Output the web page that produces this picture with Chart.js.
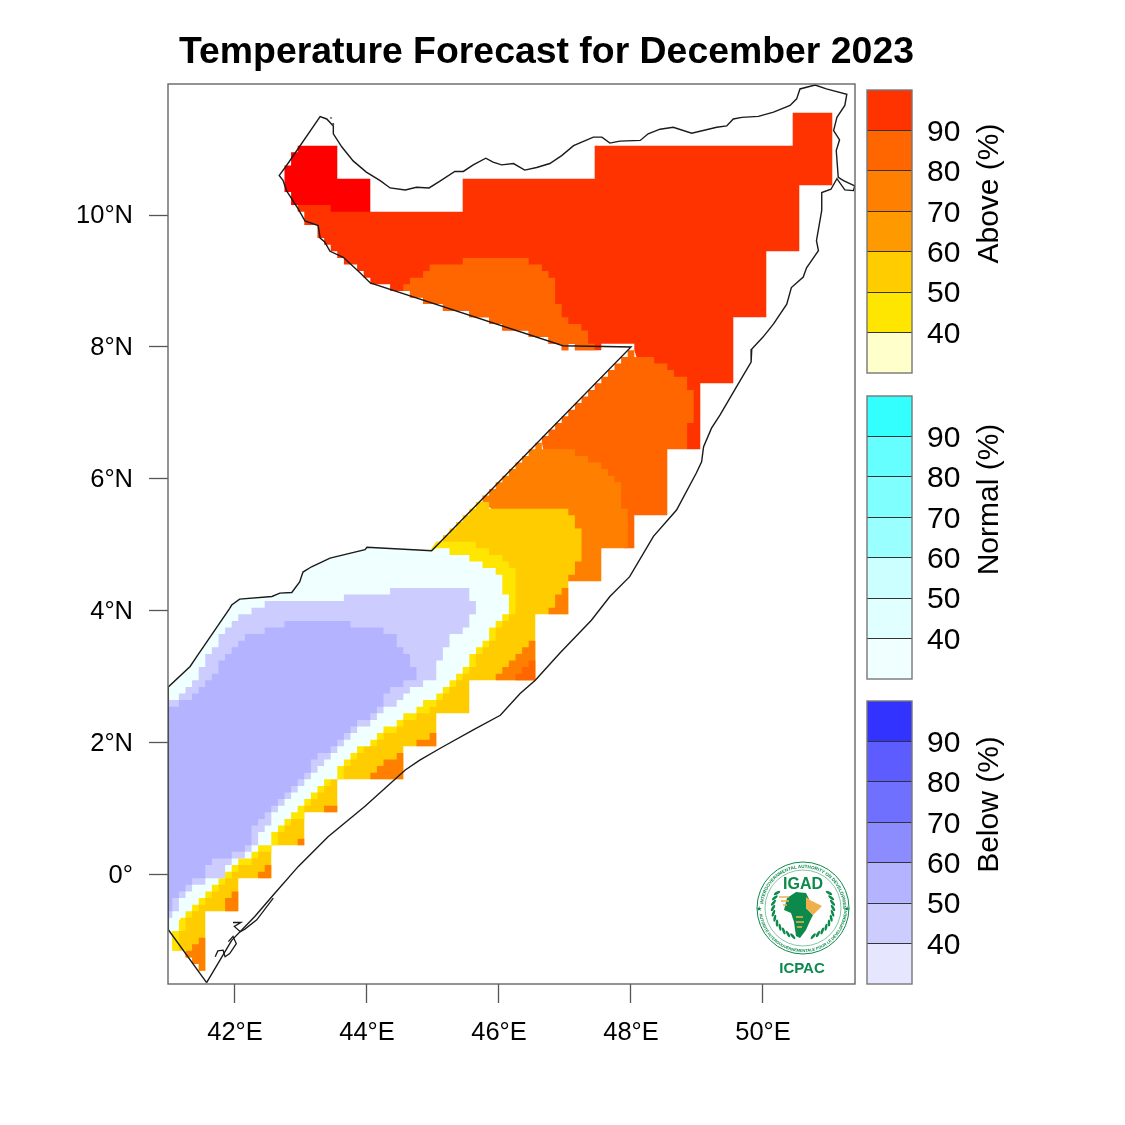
<!DOCTYPE html>
<html>
<head>
<meta charset="utf-8">
<title>Temperature Forecast for December 2023</title>
<script src="https://cdn.jsdelivr.net/npm/chart.js@4"></script>
<style>
  html, body { margin: 0; padding: 0; background: #fff; }
  #page { position: relative; width: 1125px; height: 1125px; overflow: hidden; }
  canvas { position: absolute; }
  #mapChart { left: 0; top: 0; }
  #aboveBar { left: 860px; top: 80px; }
  #normalBar { left: 860px; top: 386px; }
  #belowBar { left: 860px; top: 691px; }
  #title {
    position: absolute; left: 120px; width: 853px; top: 29px; text-align: center;
    font: bold 37.4px "Liberation Sans", sans-serif; color: #000; white-space: nowrap;
  }
  #logo { position: absolute; left: 750px; top: 855px; }
</style>
</head>
<body>
<div id="page">
  <canvas id="mapChart" width="1125" height="1125"></canvas>
  <canvas id="aboveBar" width="200" height="303"></canvas>
  <canvas id="normalBar" width="200" height="303"></canvas>
  <canvas id="belowBar" width="200" height="303"></canvas>
  <div id="title">Temperature Forecast for December 2023</div>
  <svg id="logo" width="105" height="125" viewBox="750 855 105 125"></svg>
</div>
<script>
const lonTicks = [42, 44, 46, 48, 50];
const lonLabels = ["42°E", "44°E", "46°E", "48°E", "50°E"];
const latTicks = [10, 8, 6, 4, 2, 0];
const latLabels = ["10°N", "8°N", "6°N", "4°N", "2°N", "0°"];

const aboveColors = ["#ffffcc", "#ffe600", "#ffcc00", "#ff9900", "#ff8000", "#ff6600", "#ff3300"];
const normalColors = ["#f0ffff", "#e0ffff", "#ccffff", "#99ffff", "#80ffff", "#66ffff", "#33ffff"];
const belowColors = ["#e6e6ff", "#ccccff", "#b3b3ff", "#8c8cff", "#7070ff", "#5c5cff", "#3333ff"];
const barLevels = [30, 40, 50, 60, 70, 80, 90, 100];

// rows are [top latitude of the row, longitude of the edge]
const ethiopiaEdge = [
  [7.95, 47.95], [7.85, 47.85], [7.75, 47.75], [7.65, 47.65], [7.55, 47.55], [7.45, 47.45],
  [7.35, 47.35], [7.25, 47.25], [7.15, 47.15], [7.05, 47.05], [6.95, 46.95], [6.85, 46.85],
  [6.75, 46.75], [6.65, 46.65], [6.55, 46.55], [6.45, 46.45], [6.35, 46.35], [6.25, 46.25],
  [6.15, 46.15], [6.05, 46.05], [5.95, 45.95], [5.85, 45.85], [5.75, 45.75], [5.65, 45.65],
  [5.55, 45.55], [5.45, 45.45], [5.35, 45.35], [5.25, 45.25], [5.15, 45.15], [5.05, 45.05]
];
const yellowOuterEdge = [
  [3.95, 46.15], [3.85, 46.05], [3.75, 45.95], [3.55, 45.85], [3.45, 45.75], [3.35, 45.65],
  [3.15, 45.55], [3.05, 45.45], [2.95, 45.35], [2.85, 45.25], [2.75, 45.15], [2.65, 45.05],
  [2.55, 44.95], [2.45, 44.75], [2.35, 44.55], [2.25, 44.45], [2.15, 44.25], [2.05, 44.15],
  [1.95, 43.95], [1.85, 43.85], [1.75, 43.75], [1.65, 43.65], [1.45, 43.45], [1.35, 43.35],
  [1.25, 43.25], [1.15, 43.15], [1.05, 43.05], [0.85, 42.85], [0.75, 42.75], [0.65, 42.65],
  [0.45, 42.55], [0.35, 42.35], [0.25, 42.25], [0.15, 42.05], [0.05, 41.95], [-0.05, 41.85],
  [-0.15, 41.75], [-0.25, 41.65], [-0.35, 41.55], [-0.45, 41.45], [-0.55, 41.35], [-0.65, 41.25],
  [-0.85, 41.15], [-1.15, 41.15]
];
const azureEdge = [
  [4.95, 45.25], [4.85, 45.55], [4.75, 45.75], [4.65, 45.95], [4.55, 46.05], [4.25, 46.15],
  [3.95, 46.05], [3.85, 45.95], [3.75, 45.85], [3.55, 45.75], [3.45, 45.65], [3.35, 45.55],
  [3.15, 45.45], [3.05, 45.35], [2.95, 45.25], [2.85, 45.15], [2.75, 45.05], [2.65, 44.85],
  [2.55, 44.75], [2.45, 44.55], [2.35, 44.45], [2.25, 44.25], [2.15, 44.15], [2.05, 44.05],
  [1.95, 43.85], [1.85, 43.75], [1.75, 43.65], [1.65, 43.55], [1.45, 43.35], [1.35, 43.25],
  [1.25, 43.15], [1.15, 43.05], [1.05, 42.95], [0.95, 42.85], [0.85, 42.75], [0.75, 42.65],
  [0.65, 42.55], [0.45, 42.35], [0.35, 42.25], [0.25, 42.05], [0.15, 41.95], [0.05, 41.85],
  [-0.05, 41.75], [-0.15, 41.65], [-0.25, 41.55], [-0.35, 41.45], [-0.45, 41.35], [-0.55, 41.25],
  [-0.65, 41.15], [-0.85, 41.05]
];
const lilacEdge = [
  [2.15, 43.75], [2.05, 43.65], [1.95, 43.55], [1.85, 43.45], [1.75, 43.35], [1.65, 43.25],
  [1.55, 43.15], [1.45, 43.05], [1.35, 42.95], [1.25, 42.85], [1.15, 42.75], [1.05, 42.65],
  [0.95, 42.55], [0.75, 42.45], [0.65, 42.35], [0.45, 42.25], [0.35, 42.15], [0.25, 41.95],
  [0.15, 41.85], [-0.05, 41.55], [-0.15, 41.35], [-0.25, 41.25], [-0.35, 41.15], [-0.55, 41.05],
  [-0.65, 41.05]
];
const periwinkleEdge = [
  [2.15, 43.65], [2.05, 43.55], [1.95, 43.45], [1.85, 43.25], [1.75, 43.15], [1.55, 43.05],
  [1.45, 42.95], [1.35, 42.85], [1.25, 42.75], [1.15, 42.65], [1.05, 42.55], [0.95, 42.45],
  [0.85, 42.35], [0.75, 42.25], [0.45, 42.15], [0.35, 41.95], [0.25, 41.65], [0.15, 41.55],
  [-0.05, 41.35], [-0.15, 41.25], [-0.25, 41.15], [-0.35, 41.05], [-0.55, 41.05]
];

function stairs(rows, hi, lo) {
  const picked = rows.filter((r) => r[0] <= hi && r[0] >= lo);
  const out = [];
  for (let i = 0; i < picked.length - 1; i++) {
    out.push([picked[i][1], picked[i][0]]);
    out.push([picked[i][1], picked[i + 1][0]]);
  }
  return out;
}

const southMask = [
  [46.55, 3.95], [46.55, 2.95], [45.55, 2.95], [45.55, 2.45], [45.05, 2.45], [45.05, 1.95],
  [44.55, 1.95], [44.55, 1.45], [43.55, 1.45], [43.55, 0.95], [43.05, 0.95], [43.05, 0.45],
  [42.55, 0.45], [42.55, -0.05], [42.05, -0.05], [42.05, -0.55], [41.55, -0.55], [41.55, -1.45],
  [41.45, -1.45], [41.45, -1.35], [41.35, -1.35], [41.35, -1.25], [41.25, -1.25], [41.25, -1.15],
  [41.05, -1.15], [41.05, -0.85]
];
const northMask = [
  [47.55, 8.05], [47.55, 7.95], [47.15, 7.95], [47.15, 8.05], [47.05, 8.05], [47.05, 7.95],
  [46.95, 7.95], [46.95, 8.05], [46.75, 8.05], [46.75, 8.15], [46.45, 8.15], [46.45, 8.25],
  [46.05, 8.25], [46.05, 8.35], [45.85, 8.35], [45.85, 8.45], [45.55, 8.45], [45.55, 8.55],
  [45.15, 8.55], [45.15, 8.65], [44.85, 8.65], [44.85, 8.75], [44.65, 8.75], [44.65, 8.85]
];

const hotZone = [
  [42.95, 10.2], [44.0, 10.2], [44.05, 10.05], [45.45, 10.05], [45.45, 10.55], [47.45, 10.55],
  [47.45, 11.05], [50.45, 11.05], [50.45, 11.55], [51.05, 11.55], [51.05, 10.45], [50.55, 10.45],
  [50.55, 9.45], [50.05, 9.45], [50.05, 8.45], [49.55, 8.45], [49.55, 7.45], [49.05, 7.45],
  [49.05, 6.45], [48.85, 6.45], [48.1, 7.8], [48.05, 7.95], [48.05, 8.05], ...northMask,
  [44.35, 8.85], [44.35, 8.95], [44.05, 8.95], [44.05, 9.05], [43.95, 9.05], [43.95, 9.15],
  [43.85, 9.15], [43.85, 9.25], [43.65, 9.25], [43.65, 9.35], [43.55, 9.35], [43.55, 9.45],
  [43.45, 9.45], [43.45, 9.55], [43.35, 9.55], [43.35, 9.65], [43.25, 9.65], [43.25, 9.85],
  [43.05, 9.85], [43.05, 10.05], [42.95, 10.05]
];
const redCorner = [
  [42.95, 11.05], [43.55, 11.05], [43.55, 10.55], [44.05, 10.55], [44.05, 10.05], [43.45, 10.05],
  [43.45, 10.15], [42.85, 10.15], [42.85, 10.35], [42.75, 10.35], [42.75, 10.75], [42.85, 10.75],
  [42.85, 10.95], [42.95, 10.95]
];
const northBlob = [
  [44.55, 8.95], [44.65, 8.95], [44.65, 9.05], [44.85, 9.05], [44.85, 9.15], [44.95, 9.15],
  [44.95, 9.25], [45.45, 9.25], [45.45, 9.35], [46.45, 9.35], [46.45, 9.25], [46.65, 9.25],
  [46.65, 9.15], [46.75, 9.15], [46.75, 9.05], [46.85, 9.05], [46.85, 8.65], [46.95, 8.65],
  [46.95, 8.45], [47.05, 8.45], [47.05, 8.35], [47.25, 8.35], [47.25, 8.25], [47.35, 8.25],
  [47.35, 8.05], [47.45, 8.05], [47.45, 7.95], ...northMask.slice(2), [44.55, 8.85]
];
const eastBand = [
  ...stairs(ethiopiaEdge, 7.95, 6.55).reverse(),
  [48.05, 7.95], [48.05, 7.85], [48.35, 7.85], [48.35, 7.75], [48.55, 7.75], [48.55, 7.65],
  [48.65, 7.65], [48.65, 7.55], [48.85, 7.55], [48.85, 7.35], [48.95, 7.35], [48.95, 6.85],
  [48.85, 6.85], [48.85, 6.45], [48.55, 6.45], [48.55, 5.45], [48.05, 5.45], [48.05, 4.95],
  [47.9, 4.95], [46.7, 6.3]
];
const orangeBand = [
  ...stairs(ethiopiaEdge, 6.55, 5.65).reverse(),
  [46.55, 6.55], [46.65, 6.55], [46.65, 6.45], [47.15, 6.45], [47.15, 6.35], [47.35, 6.35],
  [47.35, 6.25], [47.55, 6.25], [47.55, 6.15], [47.65, 6.15], [47.65, 6.05], [47.75, 6.05],
  [47.75, 5.95], [47.85, 5.95], [47.85, 5.55], [47.95, 5.55], [47.95, 4.95], [47.55, 4.95],
  [47.55, 4.45], [47.05, 4.45], [46.9, 4.9], [45.95, 5.5]
];
const amberBand = [
  [45.05, 5.05], ...stairs(ethiopiaEdge, 5.65, 5.05).reverse(),
  [45.75, 5.65], [45.85, 5.65], [45.85, 5.55], [47.05, 5.55], [47.05, 5.45], [47.15, 5.45],
  [47.15, 5.25], [47.25, 5.25], [47.25, 4.75], [47.15, 4.75], [47.15, 4.55], [47.05, 4.55],
  [47.05, 3.95], ...southMask
];
const yellowBand = [
  [45.05, 5.05], [45.65, 5.05], [45.65, 4.95], [45.85, 4.95], [45.85, 4.85], [46.05, 4.85],
  [46.05, 4.75], [46.15, 4.75], [46.15, 4.65], [46.25, 4.65], [46.25, 3.95],
  ...stairs(yellowOuterEdge, 3.95, -1.15), [41.05, -1.15], [41.05, -0.85]
];
const azureZone = [
  [41, -0.85], [41, 2.82], [41.32, 3.16], [41.42, 3.31], [41.92, 4.04], [41.95, 4.09], [42.07, 4.18],
  [42.56, 4.22], [42.68, 4.27], [42.86, 4.28], [42.98, 4.44], [43.03, 4.59], [43.16, 4.67],
  [43.44, 4.8], [43.97, 4.93], [44.0, 4.965], [44.98, 4.914], [45.05, 4.95],
  ...stairs(azureEdge, 4.95, -0.85), [41.05, -0.85]
];
const lilacZone = [
  [41, 2.65], [41.15, 2.65], [41.15, 2.75], [41.25, 2.75], [41.25, 2.85], [41.35, 2.85], [41.35, 2.95],
  [41.45, 2.95], [41.45, 3.15], [41.55, 3.15], [41.55, 3.35], [41.65, 3.35], [41.65, 3.45], [41.75, 3.45],
  [41.75, 3.65], [41.85, 3.65], [41.85, 3.75], [41.95, 3.75], [41.95, 3.85], [42.05, 3.85], [42.05, 3.95],
  [42.25, 3.95], [42.25, 4.05], [42.45, 4.05], [42.45, 4.15], [43.65, 4.15], [43.65, 4.25], [44.35, 4.25],
  [44.35, 4.35], [45.55, 4.35], [45.55, 4.15], [45.65, 4.15], [45.65, 3.95], [45.55, 3.95], [45.55, 3.75],
  [45.45, 3.75], [45.45, 3.65], [45.25, 3.65], [45.25, 3.45], [45.15, 3.45], [45.15, 3.25], [45.05, 3.25],
  [45.05, 2.95], [44.85, 2.95], [44.85, 2.85], [44.65, 2.85], [44.65, 2.75], [44.55, 2.75], [44.55, 2.65],
  [44.45, 2.65], [44.45, 2.55], [44.25, 2.55], [44.25, 2.45], [44.15, 2.45], [44.15, 2.35], [44.05, 2.35],
  [44.05, 2.25], [43.85, 2.25], [43.85, 2.15], ...stairs(lilacEdge, 2.15, -0.65), [41, -0.65]
];
const periwinkleZone = [
  [41, 2.55], [41.15, 2.55], [41.15, 2.65], [41.35, 2.65], [41.35, 2.75], [41.45, 2.75], [41.45, 2.85],
  [41.55, 2.85], [41.55, 2.95], [41.65, 2.95], [41.65, 3.05], [41.75, 3.05], [41.75, 3.25], [41.85, 3.25],
  [41.85, 3.35], [41.95, 3.35], [41.95, 3.45], [42.05, 3.45], [42.05, 3.55], [42.15, 3.55], [42.15, 3.65],
  [42.45, 3.65], [42.45, 3.75], [42.75, 3.75], [42.75, 3.85], [43.75, 3.85], [43.75, 3.75], [44.25, 3.75],
  [44.25, 3.65], [44.45, 3.65], [44.45, 3.45], [44.55, 3.45], [44.55, 3.35], [44.65, 3.35], [44.65, 3.15],
  [44.75, 3.15], [44.75, 2.95], [44.55, 2.95], [44.55, 2.85], [44.35, 2.85], [44.35, 2.75], [44.25, 2.75],
  [44.25, 2.55], [44.15, 2.55], [44.15, 2.45], [44.05, 2.45], [44.05, 2.35], [43.85, 2.35], [43.85, 2.25],
  [43.75, 2.25], [43.75, 2.15], ...stairs(periwinkleEdge, 2.15, -0.55), [41, -0.55]
];
// orange patches along the south coast
const coastPatches = [
  [[41.95, -0.25], [42.05, -0.25], [42.05, -0.55], [41.85, -0.55], [41.85, -0.35], [41.95, -0.35]],
  [[42.45, 0.15], [42.55, 0.15], [42.55, -0.05], [42.35, -0.05], [42.35, 0.05], [42.45, 0.05]],
  [[42.95, 0.55], [43.05, 0.55], [43.05, 0.45], [42.95, 0.45]],
  [[43.35, 1.05], [43.55, 1.05], [43.55, 0.95], [43.35, 0.95]],
  [[44.45, 1.85], [44.55, 1.85], [44.55, 1.45], [44.05, 1.45], [44.05, 1.55], [44.15, 1.55], [44.15, 1.65], [44.25, 1.65], [44.25, 1.75], [44.45, 1.75]],
  [[44.95, 2.15], [45.05, 2.15], [45.05, 1.95], [44.75, 1.95], [44.75, 2.05], [44.95, 2.05]],
  [[46.45, 3.55], [46.55, 3.55], [46.55, 2.95], [45.95, 2.95], [45.95, 3.05], [46.05, 3.05], [46.05, 3.15], [46.15, 3.15], [46.15, 3.25], [46.25, 3.25], [46.25, 3.35], [46.35, 3.35], [46.35, 3.45], [46.45, 3.45]],
  [[46.95, 4.35], [47.05, 4.35], [47.05, 3.95], [46.75, 3.95], [46.75, 4.05], [46.85, 4.05], [46.85, 4.25], [46.95, 4.25]],
  [[41.45, -0.95], [41.55, -0.95], [41.55, -1.45], [41.45, -1.45], [41.45, -1.35], [41.35, -1.35], [41.35, -1.25], [41.25, -1.25], [41.25, -1.15], [41.35, -1.15], [41.35, -1.05], [41.45, -1.05]]
];
const deepPatch = [
  [46.45, 3.25], [46.55, 3.25], [46.55, 2.95], [46.25, 2.95], [46.25, 3.05], [46.35, 3.05], [46.35, 3.15], [46.45, 3.15]
];

const borderLine = [
  [41.57, -1.63], [40.99, -0.83], [40.99, 2.85], [41.32, 3.16], [41.42, 3.31], [41.92, 4.04], [41.95, 4.09],
  [42.07, 4.18], [42.56, 4.22], [42.68, 4.27], [42.86, 4.28], [42.98, 4.44], [43.03, 4.59], [43.16, 4.67],
  [43.44, 4.8], [43.97, 4.93], [44.0, 4.965], [44.98, 4.914], [48, 8], [46.97, 8.02], [44.05, 8.97],
  [43.89, 9.13], [43.64, 9.36], [43.44, 9.45], [43.36, 9.59], [43.29, 9.65], [43.26, 9.84], [43.06, 9.91],
  [42.96, 10.09], [42.78, 10.37], [42.73, 10.52], [42.67, 10.6], [42.76, 10.72], [43.29, 11.49],
  [43.39, 11.455], [43.49, 11.35], [43.49, 11.23], [43.62, 11.03], [43.79, 10.82], [43.99, 10.65],
  [44.2, 10.52], [44.35, 10.41], [44.58, 10.38], [44.75, 10.42], [44.94, 10.41], [45.1, 10.51],
  [45.33, 10.66], [45.46, 10.66], [45.61, 10.76], [45.8, 10.86], [45.91, 10.8], [46.04, 10.76],
  [46.22, 10.78], [46.39, 10.68], [46.57, 10.72], [46.77, 10.78], [46.95, 10.9], [47.13, 11.05],
  [47.43, 11.18], [47.56, 11.18], [47.68, 11.09], [47.83, 11.12], [48.14, 11.13], [48.26, 11.23],
  [48.44, 11.3], [48.64, 11.33], [48.92, 11.24], [49.3, 11.33], [49.45, 11.35], [49.55, 11.455],
  [49.68, 11.48], [49.93, 11.495], [50.16, 11.56], [50.41, 11.66], [50.51, 11.76], [50.56, 11.91],
  [50.79, 11.97], [50.96, 11.91], [51.27, 11.83], [51.24, 11.66], [51.12, 11.48], [51.07, 11.28],
  [51.16, 11.14], [51.11, 10.975], [51.14, 10.57], [51.22, 10.52], [51.39, 10.44], [51.37, 10.37],
  [51.24, 10.38], [51.12, 10.55], [51.03, 10.39], [50.89, 10.34], [50.89, 10.07], [50.81, 9.61],
  [50.84, 9.46], [50.66, 9.2], [50.61, 9.06], [50.43, 8.9], [50.36, 8.65], [50.16, 8.35], [50, 8.15],
  [49.83, 7.97], [49.82, 7.77], [49.6, 7.4], [49.35, 6.97], [49.22, 6.77], [49.1, 6.49], [49.07, 6.26],
  [48.99, 6.09], [48.69, 5.53], [48.34, 5.13], [47.98, 4.52], [47.68, 4.22], [47.4, 3.86], [46.92, 3.36],
  [46.55, 2.95], [46.32, 2.75], [46.02, 2.42], [45.61, 2.2], [45.11, 1.92], [44.8, 1.74], [44.58, 1.59],
  [43.97, 1.04], [43.41, 0.58], [42.96, 0.13], [42.6, -0.28], [42.3, -0.63], [41.95, -0.99], [41.57, -1.63]
];
const islandLines = [
  [[41.7, -1.24], [41.74, -1.15], [41.82, -1.14], [41.85, -1.24], [41.92, -1.19], [42.02, -1.04], [41.97, -0.93], [41.9, -1.01]],
  [[41.97, -0.72], [42.09, -0.72], [41.99, -0.78], [42.08, -0.86], [42.15, -0.82], [42.33, -0.68], [42.58, -0.35]],
  [[43.45, 11.48], [43.46, 11.46]],
  [[43.48, 11.39], [43.5, 11.37]]
];

const toPoints = (pts) => pts.map((p) => ({ x: p[0], y: p[1] }));
const fillLayer = (pts, color, i) => ({
  data: toPoints(pts), showLine: true, fill: "shape", backgroundColor: color,
  borderWidth: 0, pointRadius: 0, order: -i
});
const lineLayer = (pts, width, i) => ({
  data: toPoints(pts), showLine: true, fill: false, borderColor: "#1a1a1a",
  borderWidth: width, pointRadius: 0, order: -i
});

// painted in this order, later layers on top of earlier ones
const paint = [
  [hotZone, aboveColors[6]], [redCorner, "#ff0000"], [northBlob, aboveColors[5]], [eastBand, aboveColors[5]],
  [orangeBand, aboveColors[4]], [amberBand, aboveColors[2]], [yellowBand, aboveColors[1]],
  ...coastPatches.map((p) => [p, aboveColors[4]]), [deepPatch, aboveColors[5]],
  [azureZone, normalColors[0]], [lilacZone, belowColors[1]], [periwinkleZone, belowColors[2]]
];
const datasets = paint.map((p, i) => fillLayer(p[0], p[1], i));
datasets.push(lineLayer(borderLine, 1.4, paint.length));
islandLines.forEach((l, i) => datasets.push(lineLayer(l, 1.3, paint.length + 1 + i)));

const framePlugin = {
  id: "frame",
  afterDraw(chart, args, opts) {
    const a = chart.chartArea;
    const ctx = chart.ctx;
    ctx.save();
    ctx.strokeStyle = opts.color;
    ctx.lineWidth = 1.4;
    ctx.strokeRect(a.left, a.top, a.right - a.left, a.bottom - a.top);
    ctx.restore();
  }
};

const axisFont = { family: "'Liberation Sans', sans-serif", size: 25.5 };

new Chart(document.getElementById("mapChart"), {
  type: "scatter",
  data: { datasets: datasets },
  plugins: [framePlugin],
  options: {
    responsive: false,
    animation: false,
    events: [],
    layout: { padding: { top: 84, right: 270, bottom: 0, left: 0 } },
    plugins: { legend: { display: false }, tooltip: { enabled: false }, frame: { color: "#666666" } },
    scales: {
      x: {
        type: "linear", min: 40.985, max: 51.394,
        afterFit: (s) => { s.height = 141; },
        afterBuildTicks: (s) => { s.ticks = lonTicks.map((v) => ({ value: v })); },
        grid: { drawOnChartArea: false, tickLength: 19, tickColor: "#555555", tickWidth: 1.3 },
        border: { display: false },
        ticks: {
          font: axisFont, color: "#000", padding: 15, maxRotation: 0, autoSkip: false,
          callback: (v) => lonLabels[lonTicks.indexOf(v)]
        }
      },
      y: {
        type: "linear", min: -1.652, max: 11.985,
        afterFit: (s) => { s.width = 168; },
        afterBuildTicks: (s) => { s.ticks = latTicks.map((v) => ({ value: v })); },
        grid: { drawOnChartArea: false, tickLength: 19, tickColor: "#555555", tickWidth: 1.3 },
        border: { display: false },
        ticks: {
          font: axisFont, color: "#000", padding: 16, autoSkip: false, labelOffset: 1,
          callback: (v) => latLabels[latTicks.indexOf(v)]
        }
      }
    }
  }
});

const barTitlePlugin = {
  id: "barTitle",
  afterDraw(chart, args, opts) {
    const ctx = chart.ctx;
    const a = chart.chartArea;
    ctx.save();
    ctx.translate(130, (a.top + a.bottom) / 2 - 38);
    ctx.rotate(-Math.PI / 2);
    ctx.font = "30px 'Liberation Sans', sans-serif";
    ctx.fillStyle = "#000";
    ctx.textAlign = "center";
    ctx.textBaseline = "middle";
    ctx.fillText(opts.text, 0, 0);
    ctx.restore();
  }
};

function makeColorbar(id, colors, label) {
  new Chart(document.getElementById(id), {
    type: "bar",
    data: {
      labels: [""],
      datasets: colors.map((c, i) => ({
        data: [[barLevels[i], barLevels[i + 1]]], backgroundColor: c, borderWidth: 0,
        barPercentage: 1, categoryPercentage: 1
      }))
    },
    plugins: [framePlugin, barTitlePlugin],
    options: {
      responsive: false,
      animation: false,
      events: [],
      layout: { padding: { top: 10, bottom: 10, left: 7, right: 0 } },
      plugins: {
        legend: { display: false }, tooltip: { enabled: false },
        frame: { color: "#777777" }, barTitle: { text: label }
      },
      scales: {
        x: { stacked: true, display: false },
        y: {
          position: "right", min: 30, max: 100,
          afterFit: (s) => { s.width = 148; s.paddingTop = 0; s.paddingBottom = 0; },
          afterBuildTicks: (s) => { s.ticks = s.ticks.filter((t) => t.value > 30 && t.value < 100); },
          grid: { z: 1, color: "#333333", lineWidth: 1, drawTicks: false, tickLength: 0 },
          border: { display: false },
          ticks: { stepSize: 10, padding: 15, labelOffset: 2, color: "#000", font: { family: "'Liberation Sans', sans-serif", size: 30 } }
        }
      }
    }
  });
}
makeColorbar("aboveBar", aboveColors, "Above (%)");
makeColorbar("normalBar", normalColors, "Normal (%)");
makeColorbar("belowBar", belowColors, "Below (%)");

// logo, decoration only
const green = "#0b8a4c";
let logo = `
  <defs>
    <path id="arcTop" d="M 763 908 A 40 40 0 0 1 843 908"/>
    <path id="arcBottom" d="M 759 908 A 44 44 0 0 0 847 908"/>
  </defs>
  <circle cx="803" cy="908" r="46" fill="none" stroke="${green}" stroke-width="1"/>
  <circle cx="803" cy="908" r="38" fill="none" stroke="${green}" stroke-width="0.5"/>
  <text font-family="Liberation Sans" font-size="4.6" font-weight="bold" fill="${green}">
    <textPath href="#arcTop" startOffset="4">INTERGOVERNMENTAL AUTHORITY ON DEVELOPMENT</textPath></text>
  <text font-family="Liberation Sans" font-size="4" font-weight="bold" fill="${green}">
    <textPath href="#arcBottom" startOffset="6">AUTORITÉ INTERGOUVERNEMENTALE POUR LE DÉVELOPPEMENT</textPath></text>
  <text x="803" y="889" text-anchor="middle" font-family="Liberation Sans" font-size="16" font-weight="bold" fill="${green}">IGAD</text>
  <text x="802" y="973" text-anchor="middle" font-family="Liberation Sans" font-size="15" font-weight="bold" fill="${green}">ICPAC</text>
  <path d="M787 898 L796 892 L806 893 L809 899 L806 908 L813 915 L810 921 L806 930 L800 938 L796 936 L794 922 L791 913 L784 910 Z" fill="${green}"/>
  <path d="M806 897 L810 900 L822 906 L813 915 L806 908 Z" fill="#efb04c"/>
  <path d="M779 897 H789 M781 901 H789 M783 905 H787 M796 917 H803 M796 922 H804 M797 927 H802" stroke="#efb04c" stroke-width="1.4"/>
  <text x="759" y="911" text-anchor="middle" font-size="7" fill="${green}">★</text>
  <text x="847" y="911" text-anchor="middle" font-size="7" fill="${green}">★</text>`;
for (let a = 60; a <= 165; a += 10) {
  const rad = (a * Math.PI) / 180;
  const off = Math.sin(rad) * 30;
  const ly = 908 - Math.cos(rad) * 30;
  [-1, 1].forEach((side) => {
    const lx = 803 + side * off;
    logo += `<ellipse cx="${lx}" cy="${ly}" rx="3.6" ry="1.3" fill="${green}" transform="rotate(${side * (a - 30)} ${lx} ${ly})"/>`;
  });
}
document.getElementById("logo").innerHTML = logo;
</script>
</body>
</html>
